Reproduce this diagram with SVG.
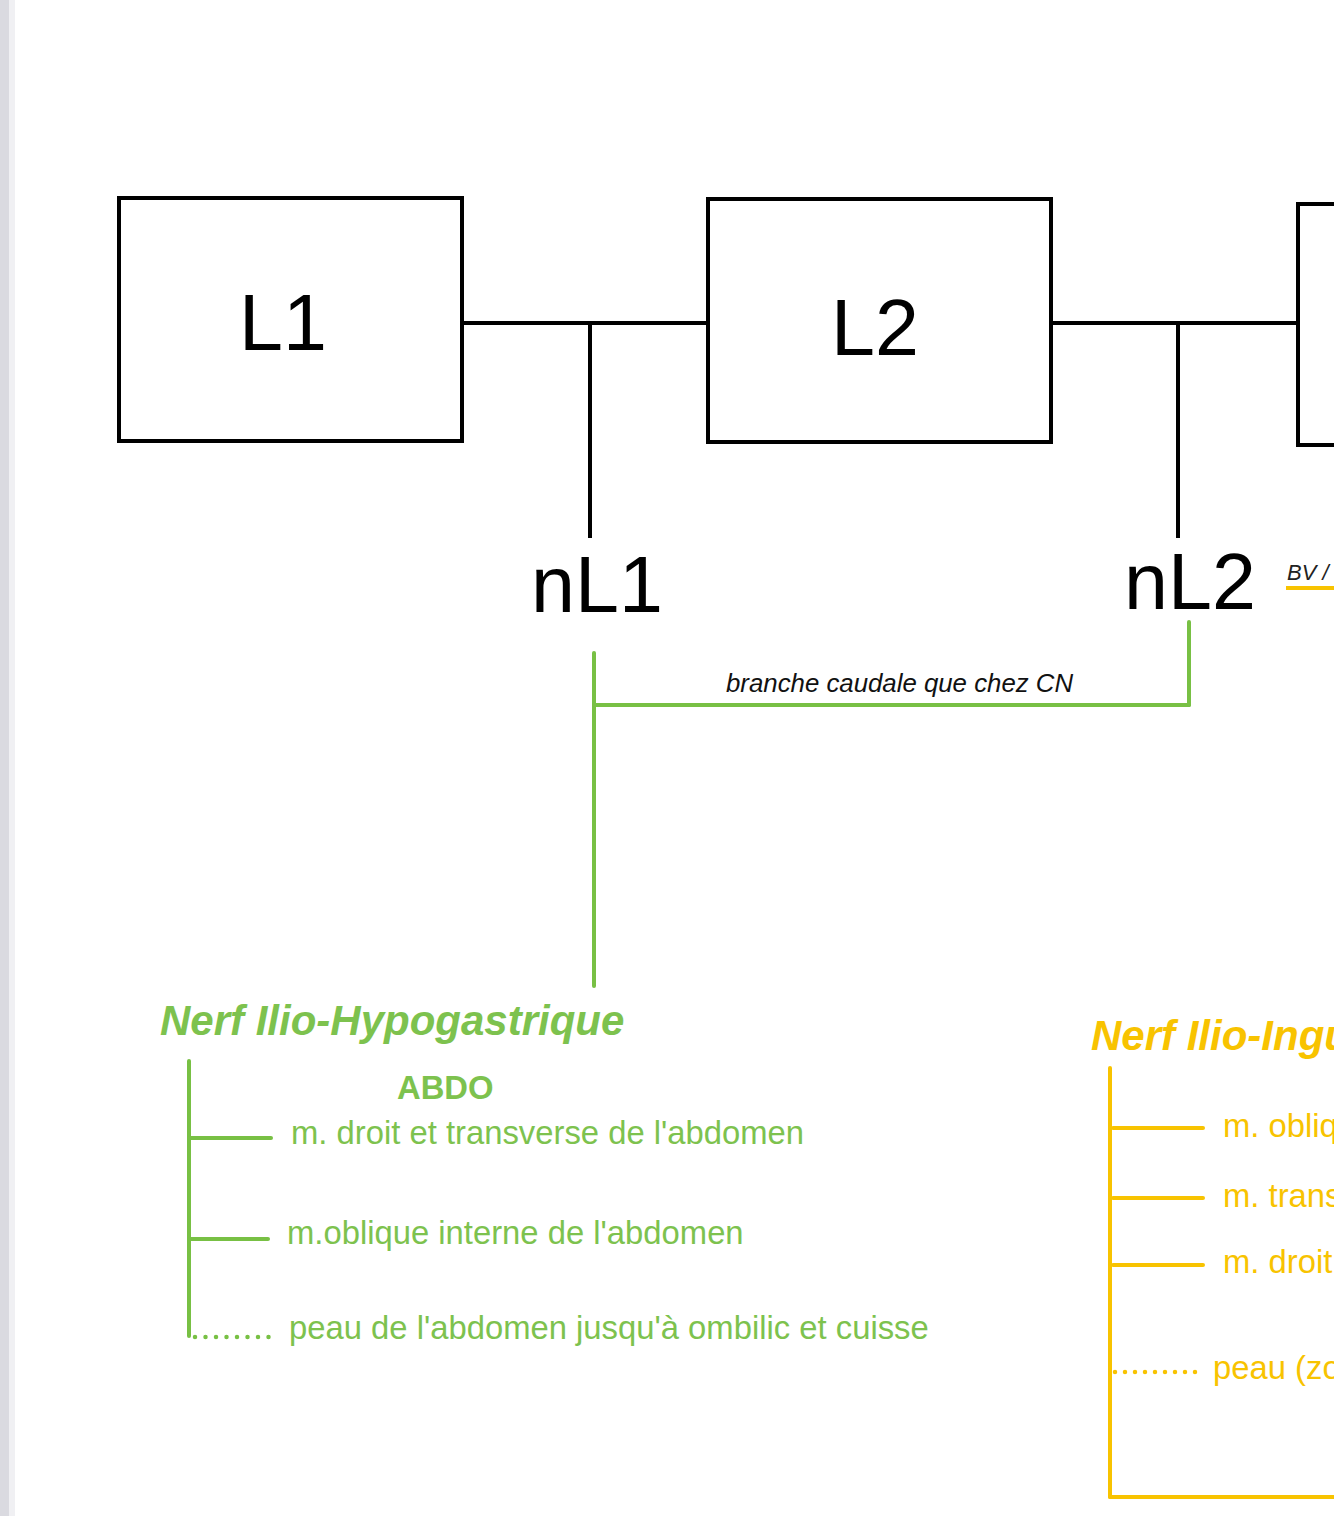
<svg xmlns="http://www.w3.org/2000/svg" width="1334" height="1516" viewBox="0 0 1334 1516">
<style>
.box{fill:#fff;stroke:#000;stroke-width:4}
.blk{stroke:#000;stroke-width:4;fill:none}
.grn{stroke:#78c044;stroke-width:4;fill:none;stroke-linecap:round}
.yel{stroke:#f8c300;stroke-width:4;fill:none;stroke-linecap:round}
.gdot{stroke:#78c044;stroke-width:4.5;stroke-dasharray:0 10.5;stroke-linecap:round;fill:none}
.ydot{stroke:#f8c300;stroke-width:4.5;stroke-dasharray:0 10;stroke-linecap:round;fill:none}
.big{font-family:"Liberation Sans",Arial,sans-serif;font-size:79px;fill:#000;text-anchor:middle}
.title{font-family:"Liberation Sans",Arial,sans-serif;font-size:42px;font-weight:bold;font-style:italic}
.body{font-family:"Liberation Sans",Arial,sans-serif;font-size:32.8px}
.g{fill:#7dc24e}
.y{fill:#f8c300}
</style>
<rect x="0" y="0" width="1334" height="1516" fill="#fff"/>
<rect x="0" y="0" width="9" height="1516" fill="#dadae0"/>
<rect x="9" y="0" width="6" height="1516" fill="#f0f0f3"/>

<g id="connectors">
<line class="blk" x1="462" y1="323" x2="708" y2="323"/>
<line class="blk" x1="590" y1="323" x2="590" y2="538"/>
<line class="blk" x1="1051" y1="323" x2="1298" y2="323"/>
<line class="blk" x1="1178" y1="323" x2="1178" y2="538"/>
<line class="grn" x1="594" y1="653" x2="594" y2="986"/>
<line class="grn" x1="594" y1="705" x2="1189" y2="705"/>
<line class="grn" x1="1189" y1="622" x2="1189" y2="705"/>
<line class="grn" x1="189" y1="1061" x2="189" y2="1336"/>
<line class="grn" x1="189" y1="1138" x2="271" y2="1138"/>
<line class="grn" x1="189" y1="1239" x2="268" y2="1239"/>
<line class="gdot" x1="195" y1="1337" x2="276" y2="1337"/>
<line class="yel" x1="1110" y1="1068" x2="1110" y2="1497"/>
<line class="yel" x1="1110" y1="1497" x2="1340" y2="1497"/>
<line class="yel" x1="1113" y1="1128" x2="1203" y2="1128"/>
<line class="yel" x1="1113" y1="1198" x2="1203" y2="1198"/>
<line class="yel" x1="1113" y1="1265" x2="1203" y2="1265"/>
<line class="ydot" x1="1115" y1="1372" x2="1205" y2="1372"/>
<line x1="1286" y1="588" x2="1340" y2="588" stroke="#f8c300" stroke-width="4"/>
</g>

<g id="L1">
<rect class="box" x="119" y="198" width="343" height="243"/>
<text class="big" x="283" y="350">L1</text>
</g>
<g id="L2">
<rect class="box" x="708" y="199" width="343" height="243"/>
<text class="big" x="875" y="355">L2</text>
</g>
<g id="L3">
<rect class="box" x="1298" y="204" width="120" height="241"/>
</g>
<g id="nL1">
<text class="big" x="597" y="612">nL1</text>
</g>
<g id="nL2">
<text class="big" x="1190" y="609">nL2</text>
</g>
<g id="bv">
<text x="1287" y="580" font-family="'Liberation Sans',Arial,sans-serif" font-size="22" font-style="italic" fill="#222">BV /</text>
</g>
<g id="caudale">
<text x="726" y="692" font-family="'Liberation Sans',Arial,sans-serif" font-size="25.8" font-style="italic" fill="#111">branche caudale que chez CN</text>
</g>

<g id="ilio-hypogastrique">
<text class="title g" x="160" y="1035">Nerf Ilio-Hypogastrique</text>
<text class="body g" x="397" y="1099" font-weight="bold" font-size="31">ABDO</text>
<text class="body g" x="291" y="1144">m. droit et transverse de l'abdomen</text>
<text class="body g" x="287" y="1244">m.oblique interne de l'abdomen</text>
<text class="body g" x="289" y="1339">peau de l'abdomen jusqu'à ombilic et cuisse</text>
</g>

<g id="ilio-inguinal">
<text class="title y" x="1091" y="1050">Nerf Ilio-Inguinal</text>
<text class="body y" x="1223" y="1137">m. oblique</text>
<text class="body y" x="1223" y="1207">m. transverse</text>
<text class="body y" x="1223" y="1273">m. droit</text>
<text class="body y" x="1213" y="1379">peau (zone</text>
</g>
</svg>
